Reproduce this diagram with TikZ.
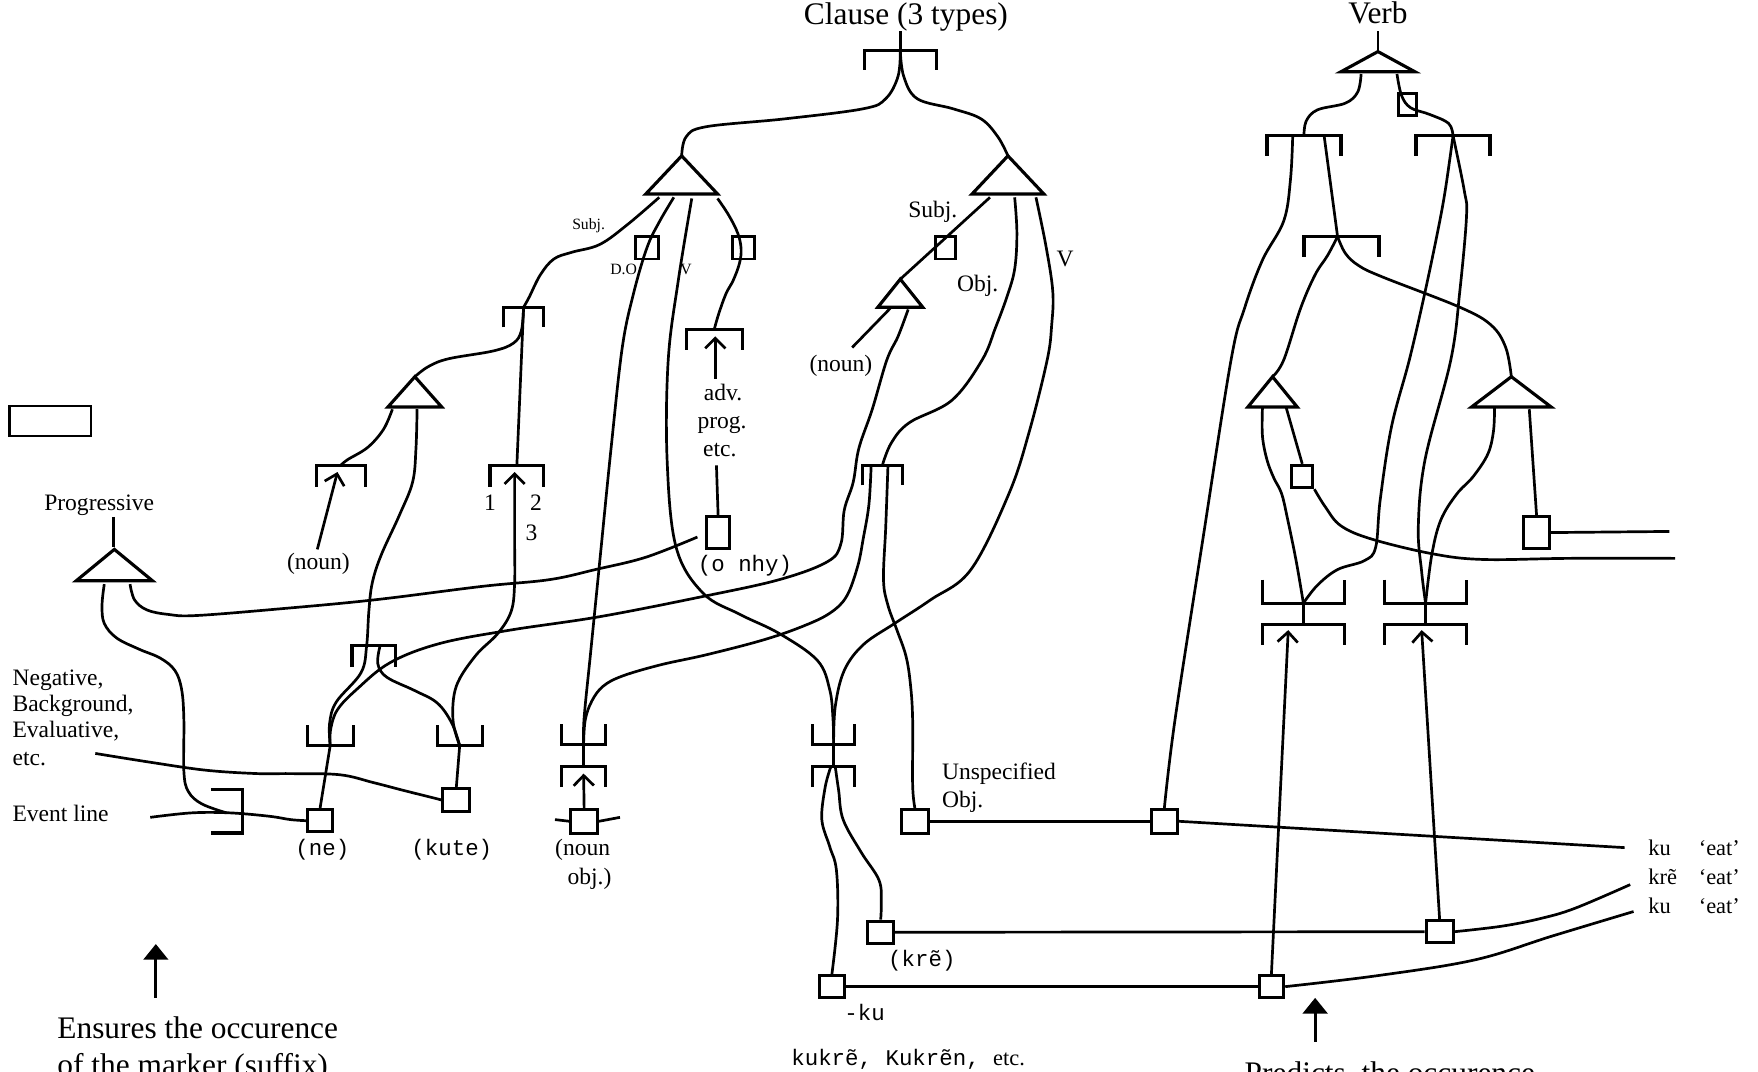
\documentclass[tikz,border=0pt]{standalone}
\usepackage{fontspec}
\setmainfont{Liberation Serif}
\setmonofont{Liberation Mono}
\usetikzlibrary{arrows.meta}
\newcommand{\BrDown}[4]{\begin{scope}[shift={(#1,#2)}]\draw[br] (-#3,#4) -- (-#3,0) -- (#3,0) -- (#3,#4);\end{scope}}
\newcommand{\BrUp}[4]{\begin{scope}[shift={(#1,#2)}]\draw[br] (-#3,-#4) -- (-#3,0) -- (#3,0) -- (#3,-#4);\end{scope}}
\newcommand{\TriShape}[4]{\begin{scope}[shift={(#1,#2)}]\draw[br] (0,0) -- (#3,#4) -- (-#3,#4) -- cycle;\end{scope}}
\begin{document}
\begin{tikzpicture}[x=1pt,y=-1pt,
  ln/.style={line width=2.4pt},
  br/.style={line width=2.8pt},
  sqr/.style args={#1x#2}{draw, line width=2.6pt, minimum width=#1pt, minimum height=#2pt, inner sep=0pt},
  tA/.style={font=\fontsize{28}{32}\selectfont, inner sep=0pt},
  tB/.style={font=\fontsize{21}{24}\selectfont, inner sep=0pt},
  tE/.style={font=\fontsize{20}{22}\selectfont, inner sep=0pt},
  tS/.style={font=\fontsize{14}{16}\selectfont, inner sep=0pt},
  tM/.style={font=\fontsize{20}{22}\selectfont\ttfamily, inner sep=0pt},
  oarr/.style={-{Straight Barb[length=9pt,width=18pt]}},
  farr/.style={-{Triangle[length=14pt,width=22pt]}},
  sm/.style={smooth, tension=0.6}]
\useasboundingbox (0,0) rectangle (1568,956);

% ---------- titles ----------
\node[tA, anchor=base] (clause) at (808,22) {Clause (3 types)};
\node[tA, anchor=base] (verb) at (1229,21) {Verb};

% ---------- coordinates ----------
\coordinate (clstub) at (803,28);  \coordinate (Bcl) at (803,45);
\coordinate (T1) at (608,139); \coordinate (T2) at (899,139);
\coordinate (T3) at (1229,46); \coordinate (vstub) at (1229,28);
\coordinate (T4) at (1135,336); \coordinate (T5) at (1348,336);
\coordinate (T6) at (102,490); \coordinate (pstub) at (101,461);
\coordinate (T7) at (803,249); \coordinate (T8) at (370,336);
\coordinate (Bsubj) at (467,274); \coordinate (B123) at (461,415);
\coordinate (Bnoun) at (304,415); \coordinate (Badv) at (637,294);
\coordinate (Bunsp) at (787,415); \coordinate (Bmid) at (333.5,576);
\coordinate (Bne) at (294.5,665); \coordinate (Bkute) at (410,665);
\coordinate (Bnobj) at (520.5,664); \coordinate (BkuA) at (743.5,664);
\coordinate (Bv1) at (1163,121); \coordinate (Bv2) at (1296,121);
\coordinate (Bv3) at (1196.5,211); \coordinate (Bv4) at (1162.5,538);
\coordinate (Bv5) at (1271.5,538);

% ---------- squares ----------
\node[sqr=20x20] (sqDO) at (577,221) {};
\node[sqr=20x20] (sqAdv) at (663,221) {};
\node[sqr=18x20] (sqSubj) at (843,221) {};
\node[sqr=21x28] (sqOnhy) at (640.5,475) {};
\node[sqr=16x20] (sqVerb) at (1255,93) {};
\node[sqr=19x20] (sq1) at (1161.5,425) {};
\node[sqr=23x28] (sq2) at (1370.5,475) {};
\node[sqr=22x20] (Sne) at (285.5,732) {};
\node[sqr=24x20] (Skute) at (407,713.5) {};
\node[sqr=24x21] (Snobj) at (521,732.5) {};
\node[sqr=24x21] (Sunsp) at (816,732.5) {};
\node[sqr=23x21] (Sku) at (1038.5,732.5) {};
\node[sqr=23x20] (Skre) at (785.5,831.5) {};
\node[sqr=22x20] (SkuA) at (742,880) {};
\node[sqr=24x20] (SkreB) at (1284,831) {};
\node[sqr=22x20] (SkuB) at (1134,880) {};
\node[draw, line width=2pt, minimum width=72.5pt, minimum height=27pt, inner sep=0pt] (emptybox) at (44.75,375.5) {};

% ---------- brackets ----------
\BrDown{803}{45}{32}{17}
\BrDown{1163}{121}{33}{18}
\BrDown{1296}{121}{33}{18}
\BrDown{1196.5}{211}{33.5}{18}
\BrDown{467}{274}{18}{18}
\BrDown{461}{415}{24}{19}
\BrDown{304}{415}{22}{19}
\BrDown{637}{294}{25}{18}
\BrDown{787}{415}{18}{18}
\BrDown{333.5}{576}{19.5}{19}
\BrUp{294.5}{665}{20.5}{18}
\BrUp{410}{665}{20}{18}
\BrUp{520.5}{664}{19.5}{18}
\BrDown{520.5}{684}{19.5}{18}
\draw[br] (520.5,664) -- (520.5,684);
\BrUp{743.5}{664}{18.5}{18}
\BrDown{743.5}{684}{18.5}{18}
\draw[br] (743.5,664) -- (743.5,684);
\BrUp{1162.5}{538}{36.5}{21}
\BrDown{1162.5}{557}{36.5}{18}
\draw[br] (1162.5,538) -- (1162.5,557);
\BrUp{1271.5}{538}{36.5}{21}
\BrDown{1271.5}{557}{36.5}{18}
\draw[br] (1271.5,538) -- (1271.5,557);
\draw[br] (188,704) -- (216,704) -- (216,743) -- (188,743);

% ---------- triangles ----------
\TriShape{608}{139}{32}{34}
\TriShape{899}{139}{32}{34}
\TriShape{1229}{46}{33}{18}
\TriShape{1135}{336}{22}{27}
\TriShape{1348}{336}{35.5}{27}
\TriShape{102}{490}{34}{28}
\TriShape{803}{249}{20}{25}
\TriShape{370}{336}{24}{27}

% ---------- stubs ----------
\draw[ln] (clstub) -- (Bcl);
\draw[ln] (vstub) -- (T3);
\draw[ln] (pstub) -- (101,488);

% ---------- clause tree ----------
\draw[ln] plot[sm] coordinates {(Bcl) (801,68) (790,88) (770,97) (700,106) (630,113) (612,122) (T1)};
\draw[ln] plot[sm] coordinates {(Bcl) (806,68) (818,88) (850,97) (875,106) (890,122) (T2)};
% T1 subj
\draw[ln] plot[sm] coordinates {(588,176) (560,200) (535,218) (510,225) (494,231) (482,245) (472,265) (Bsubj)};
\draw[ln] plot[sm] coordinates {(Bsubj) (465,295) (458,306) (440,313) (400,320) (382,327) (T8)};
\draw[ln] (Bsubj) -- (B123);
\draw[ln, oarr] plot[sm] coordinates {(Bkute) (404,642) (407,612) (424,585) (444,565) (456,545) (459,520) (459,483) (459,421)};
% T8
\draw[ln] plot[sm] coordinates {(350,365) (342,383) (328,399) (310,410) (Bnoun)};
\coordinate (nounA) at (283,490);
\draw[ln, oarr] (nounA) -- (301,421);
\draw[ln] plot[sm] coordinates {(372,365) (371,400) (368,430) (356,460) (340,495) (332,520) (329,545) (327,576) (322,600) (300,626) (294,645) (Bne)};
\draw[ln] plot[sm] coordinates {(339,576) (337,592) (345,604) (370,616) (390,627) (403,645) (Bkute)};
% T7
\draw[ln] (794,275) -- (760,310);
\draw[ln] plot[sm] coordinates {(810,276) (801,300) (791,321) (778,365) (766,400) (761,430) (753,455) (750,485) (738,501) (695,517) (627,532) (535,550) (455,562) (392,574) (348,591) (318,615) (301,633) (295,650) (Bne)};
\draw[ln] (Bne) -- (Sne.north);
\draw[ln] (Bkute) -- (Skute.north);
% D.O.
\draw[ln] plot[sm] coordinates {(601,176) (588,198) (577,221) (565,262) (555,310) (545,400) (535,500) (527,580) (521,640) (Bnobj)};
% V of T1
\draw[ln] plot[sm] coordinates {(617,177) (605,250) (596,321) (595,410) (603,488) (627,529) (660,548) (695,565) (729,589) (740,615) (743,642) (BkuA)};
% adv
\draw[ln] plot[sm] coordinates {(640,177) (650,192) (658,208) (661,222) (659.5,235) (654,250) (647.5,262) (641,280) (Badv)};
\coordinate (advA) at (638,338);
\draw[ln, oarr] (advA) -- (638,300);
\coordinate (etcA) at (639,415);
\draw[ln] (etcA) -- (sqOnhy.north);
% T2 subj
\draw[ln] (883,176) -- (T7);
% T2 obj
\draw[ln] plot[sm] coordinates {(905,176) (907,208) (905,240) (898,265) (888,292) (876,321) (849,357) (811,377) (795,395) (Bunsp)};
% T2 V
\draw[ln] plot[sm] coordinates {(924,176) (933,220) (939,260) (938,290) (934,321) (918,385) (900,440) (866,508) (830,535) (798,556) (770,575) (753,598) (745,630) (BkuA)};
% Bunsp
\draw[ln] plot[sm] coordinates {(777,415) (775,450) (770,480) (765,505) (755,532) (740,547) (715,559) (680,571) (630,584) (589,593) (555,603) (538,612) (528,625) (522,642) (Bnobj)};
\draw[ln] plot[sm] coordinates {(792,415) (790,470) (788,517) (792,540) (800,562) (808,585) (812,610) (814,642) (814,700) (Sunsp.north)};
% below BkuA
\draw[ln] plot[sm] coordinates {(741,684) (736,702) (733,731) (740,755) (746,776) (747,820) (SkuA.north)};
\draw[ln] plot[sm] coordinates {(745,684) (748,705) (752,731) (768,760) (784,785) (786,805) (Skre.north)};
\draw[ln, oarr] (Snobj.north) -- (520.5,690);
\coordinate (stubL) at (495,731); \coordinate (stubR) at (553,729);
\draw[ln] (stubL) -- (Snobj.west);
\draw[ln] (Snobj.east) -- (stubR);

% ---------- left side ----------
\draw[ln] plot[sm] coordinates {(93,521) (91,540) (93,556) (104,569) (124,579) (143,587) (156,598) (162,615) (164,642) (164,688) (168,706) (180,717) (202,725)};
\draw[ln] plot[sm] coordinates {(116,521) (120,535) (131,544) (150,548) (175,549) (250,543) (334,535) (430,523) (490,517) (531,508) (576,497) (622,479)};
\coordinate (negA) at (85,672);
\draw[ln] plot[sm] coordinates {(negA) (135,680) (184,687) (230,690) (259,690) (303,691) (333,698) (360,705) (388,712) (Skute.west)};
\coordinate (evA) at (134,729);
\draw[ln] plot[sm] coordinates {(evA) (171,725) (205,725) (240,728) (259,731) (Sne.west)};

% ---------- verb tree ----------
\draw[ln] plot[sm] coordinates {(1214,66) (1211,82) (1200,92) (1175,98) (1165,108) (Bv1)};
\draw[ln] plot[sm] coordinates {(1246,66) (1250,85) (1258,96) (1275,102) (1292,110) (Bv2)};
\draw[ln] plot[sm] coordinates {(1153,121) (1151,160) (1145,197) (1126,232) (1110,275) (1098,321) (1073,480) (1048,642) (Sku.north)};
\draw[ln] (1181,121) -- (1193,211);
\draw[ln] plot[sm] coordinates {(1193,211) (1184,228) (1173,245) (1160,275) (1145,321) (T4)};
\draw[ln] plot[sm] coordinates {(1193,211) (1200,226) (1212,237) (1233,247) (1302,274) (1330,290) (1343,310) (T5)};
\draw[ln] plot[sm] coordinates {(Bv2) (1289,170) (1282,208) (1270,265) (1257,321) (1241,381) (1231,446) (1227,488) (1217,500) (1193,508) (1175,522) (Bv4)};
\draw[ln] plot[sm] coordinates {(Bv2) (1306,170) (1308,193) (1302,260) (1294,321) (1271,410) (1265,470) (1268,510) (Bv5)};
\draw[ln] plot[sm] coordinates {(1126,364) (1126,389) (1130,410) (1136,426) (1143,440) (1148,461) (1156,500) (Bv4)};
\draw[ln] (1147,363) -- (sq1.north);
\coordinate (sq1end) at (1494,498);
\draw[ln] plot[sm] coordinates {(sq1.south east) (1182,452) (1196,469) (1224,481) (1278,494) (1323,499) (1400,498) (sq1end)};
\draw[ln] plot[sm] coordinates {(1333,364) (1332,385) (1327,405) (1314,425) (1299,441) (1285,464) (1277,495) (Bv5)};
\draw[ln] (1364,365) -- (sq2.north);
\coordinate (sq2end) at (1489,474);
\draw[ln] (sq2.east) -- (sq2end);
\draw[ln, oarr] (SkuB.north) -- (1149,562);
\draw[ln, oarr] (SkreB.north) -- (1268,562);

% ---------- bottom horizontal lines ----------
\draw[ln] (Sunsp.east) -- (Sku.west);
\coordinate (kuE1) at (1449,756);
\draw[ln] (Sku.east) -- (kuE1);
\draw[ln] (Skre.east) -- (SkreB.west);
\coordinate (kreE) at (1454,789);
\draw[ln] plot[sm] coordinates {(SkreB.east) (1340,826) (1375,819) (1405,810) (kreE)};
\draw[ln] (SkuA.east) -- (SkuB.west);
\coordinate (kuE2) at (1457,813);
\draw[ln] plot[sm] coordinates {(SkuB.east) (1230,870) (1316,856) (1384,835) (kuE2)};

% ---------- filled arrows ----------
\coordinate (fa1) at (139,890); \coordinate (fa1t) at (139,842);
\draw[ln, farr] (fa1) -- (fa1t);
\coordinate (fa2) at (1173,929); \coordinate (fa2t) at (1173,890);
\draw[ln, farr] (fa2) -- (fa2t);

% ---------- labels ----------
\node[tS, anchor=base] (lsubj1) at (525,205) {Subj.};
\node[tS, anchor=base] (ldo) at (558,245) {D.O.};
\node[tS, anchor=base] (lv1) at (612,245) {V};
\node[tB, anchor=base] (lsubj2) at (832,194) {Subj.};
\node[tB, anchor=base] (lobj) at (872,260) {Obj.};
\node[tB, anchor=base] (lv2) at (950,238) {V};
\node[tB, anchor=base] (lnoun2) at (750,331) {(noun)};
\node[tB, anchor=base] (ladv) at (645,357) {adv.};
\node[tB, anchor=base] (lprog) at (644,382) {prog.};
\node[tB, anchor=base] (letc) at (642,407) {etc.};
\node[tM, anchor=base] (lonhy) at (664.5,510) {(o nhy)};
\node[tB, anchor=base] (lnoun1) at (284,508) {(noun)};
\node[tB, anchor=base] (l1) at (437,455) {1};
\node[tB, anchor=base] (l2) at (478,455) {2};
\node[tB, anchor=base] (l3) at (474,482) {3};
\node[tB, anchor=base] (lprogr) at (88.5,455) {Progressive};
\node[tB, anchor=base west] (lneg) at (11,611) {Negative,};
\node[tB, anchor=base west] (lback) at (11,635) {Background,};
\node[tB, anchor=base west] (leval) at (11,658) {Evaluative,};
\node[tB, anchor=base west] (letc2) at (11,683) {etc.};
\node[tB, anchor=base west] (levent) at (11,733) {Event line};
\node[tM, anchor=base] (lne) at (287.5,763) {(ne)};
\node[tM, anchor=base] (lkute) at (403,763) {(kute)};
\node[tB, anchor=base west] (lnobj1) at (495,763) {(noun};
\node[tB, anchor=base west] (lnobj2) at (506,789) {obj.)};
\node[tB, anchor=base west] (lunsp1) at (840,695) {Unspecified};
\node[tB, anchor=base west] (lunsp2) at (840,720) {Obj.};
\node[tM, anchor=base west] (lkre) at (792,862) {(krẽ)};
\node[tM, anchor=base west] (lku) at (753,910) {-ku};
\node[tB, anchor=base] (lkukre) at (810,950) {\fontsize{20}{22}\selectfont\ttfamily kukrẽ, Kukrẽn, \rmfamily etc.};
\node[tE, anchor=base west] (rku1) at (1470,763) {ku};
\node[tE, anchor=base west] (reat1) at (1515,763) {‘eat’};
\node[tE, anchor=base west] (rkre) at (1470,789) {krẽ};
\node[tE, anchor=base west] (reat2) at (1515,789) {‘eat’};
\node[tE, anchor=base west] (rku2) at (1470,815) {ku};
\node[tE, anchor=base west] (reat3) at (1515,815) {‘eat’};
\node[tA, anchor=base west] (lens1) at (51,926) {Ensures the occurence};
\node[tA, anchor=base west] (lens2) at (51,959) {of the marker (suffix)};
\node[tA, anchor=base west] (lpred) at (1110,966) {Predicts\ \ the occurence};
\end{tikzpicture}
\end{document}
